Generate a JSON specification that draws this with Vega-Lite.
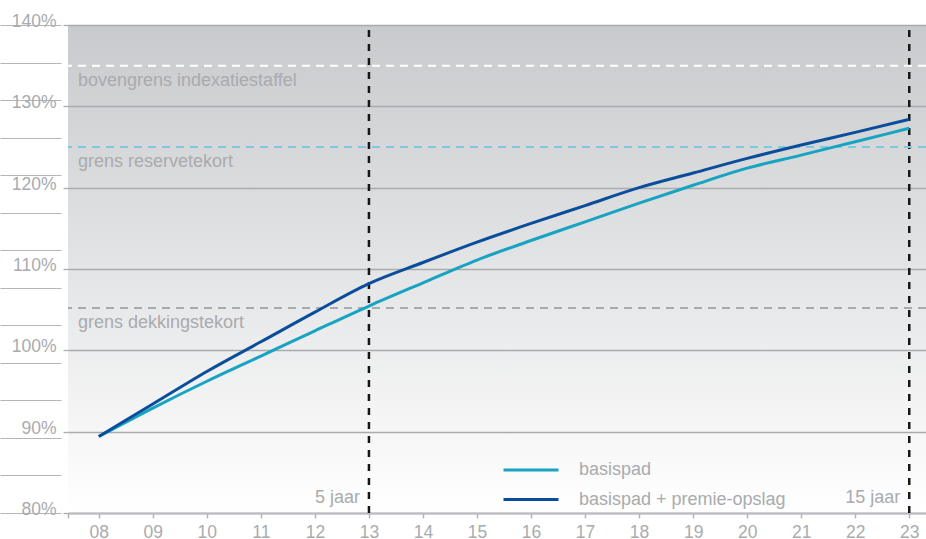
{
  "$schema": "https://vega.github.io/schema/vega-lite/v6.json",
  "width": 858,
  "height": 488,
  "autosize": "none",
  "padding": {"left": 68, "top": 25, "right": 0, "bottom": 26},
  "background": "#ffffff",
  "config": {
    "view": {
      "stroke": null,
      "fill": {
        "gradient": "linear",
        "x1": 0, "y1": 0, "x2": 0, "y2": 1,
        "stops": [
          {"offset": 0, "color": "#c8cacd"},
          {"offset": 1, "color": "#ffffff"}
        ]
      }
    },
    "font": "Liberation Sans",
    "axis": {
      "labelFont": "Liberation Sans",
      "labelFontSize": 17.5,
      "labelColor": "#a9abae",
      "title": null
    },
    "legend": {
      "orient": "none",
      "legendX": 454,
      "legendY": 436,
      "padding": 0,
      "symbolType": "M-5,0H5",
      "symbolSize": 121,
      "symbolStrokeWidth": 3,
      "labelFont": "Liberation Sans",
      "labelFontSize": 18,
      "labelColor": "#a9abae",
      "labelOffset": 39,
      "labelLimit": 0,
      "rowPadding": 11.5
    }
  },
  "datasets": {
    "paden": [
      {"jaar": 8, "pad": "basispad", "waarde": 89.4},
      {"jaar": 9, "pad": "basispad", "waarde": 92.9},
      {"jaar": 10, "pad": "basispad", "waarde": 96.2},
      {"jaar": 11, "pad": "basispad", "waarde": 99.3},
      {"jaar": 12, "pad": "basispad", "waarde": 102.4},
      {"jaar": 13, "pad": "basispad", "waarde": 105.45},
      {"jaar": 14, "pad": "basispad", "waarde": 108.3},
      {"jaar": 15, "pad": "basispad", "waarde": 111.1},
      {"jaar": 16, "pad": "basispad", "waarde": 113.5},
      {"jaar": 17, "pad": "basispad", "waarde": 115.8},
      {"jaar": 18, "pad": "basispad", "waarde": 118.1},
      {"jaar": 19, "pad": "basispad", "waarde": 120.3},
      {"jaar": 20, "pad": "basispad", "waarde": 122.4},
      {"jaar": 21, "pad": "basispad", "waarde": 124.0},
      {"jaar": 22, "pad": "basispad", "waarde": 125.65},
      {"jaar": 23, "pad": "basispad", "waarde": 127.3},
      {"jaar": 8, "pad": "basispad + premie-opslag", "waarde": 89.4},
      {"jaar": 9, "pad": "basispad + premie-opslag", "waarde": 93.4},
      {"jaar": 10, "pad": "basispad + premie-opslag", "waarde": 97.4},
      {"jaar": 11, "pad": "basispad + premie-opslag", "waarde": 101.05},
      {"jaar": 12, "pad": "basispad + premie-opslag", "waarde": 104.7},
      {"jaar": 13, "pad": "basispad + premie-opslag", "waarde": 108.2},
      {"jaar": 14, "pad": "basispad + premie-opslag", "waarde": 110.8},
      {"jaar": 15, "pad": "basispad + premie-opslag", "waarde": 113.3},
      {"jaar": 16, "pad": "basispad + premie-opslag", "waarde": 115.6},
      {"jaar": 17, "pad": "basispad + premie-opslag", "waarde": 117.8},
      {"jaar": 18, "pad": "basispad + premie-opslag", "waarde": 120.0},
      {"jaar": 19, "pad": "basispad + premie-opslag", "waarde": 121.8},
      {"jaar": 20, "pad": "basispad + premie-opslag", "waarde": 123.6},
      {"jaar": 21, "pad": "basispad + premie-opslag", "waarde": 125.25},
      {"jaar": 22, "pad": "basispad + premie-opslag", "waarde": 126.8},
      {"jaar": 23, "pad": "basispad + premie-opslag", "waarde": 128.4}
    ],
    "grenzen": [
      {"grens": "bovengrens indexatiestaffel", "waarde": 135},
      {"grens": "grens reservetekort", "waarde": 125},
      {"grens": "grens dekkingstekort", "waarde": 105.2}
    ],
    "horizon": [
      {"jaar": 13, "label": "5 jaar"},
      {"jaar": 23, "label": "15 jaar"}
    ]
  },
  "layer": [
    {
      "data": {"name": "horizon"},
      "mark": {"type": "rule", "color": "#161616", "strokeWidth": 2.5, "strokeDash": [7, 7]},
      "encoding": {
        "x": {
          "field": "jaar",
          "type": "quantitative",
          "scale": {"domain": [7.43, 23.31], "nice": false, "zero": false},
          "axis": {
            "values": [7.43, 8, 9, 10, 11, 12, 13, 14, 15, 16, 17, 18, 19, 20, 21, 22, 23],
            "labelExpr": "datum.value < 7.9 ? '' : (datum.value < 10 ? '0' + datum.value : '' + datum.value)",
            "grid": false,
            "tickSize": 5,
            "tickColor": "#b2b4b7",
            "tickWidth": 1.5,
            "domainColor": "#b8babd",
            "domainWidth": 2,
            "labelPadding": 5,
            "labelFlush": false,
            "labelOverlap": false,
            "title": null
          }
        },
        "y": {
          "datum": 0,
          "type": "quantitative",
          "scale": {"domain": [0, 13], "nice": false, "zero": false},
          "axis": {
            "orient": "left",
            "offset": 7,
            "values": [0, 1, 2, 3, 4, 5, 6, 7, 8, 9, 10, 11, 12, 13],
            "tickSize": 61,
            "tickColor": "#b4b6b9",
            "tickWidth": 1.2,
            "labels": false,
            "domain": false,
            "grid": false,
            "title": null
          }
        },
        "y2": {"datum": 13}
      }
    },
    {
      "layer": [
        {
          "data": {"name": "grenzen"},
          "mark": {"type": "rule", "strokeWidth": 2, "strokeDash": [8, 6]},
          "encoding": {
            "y": {"field": "waarde", "type": "quantitative"},
            "stroke": {
              "field": "grens",
              "type": "nominal",
              "scale": {
                "domain": ["bovengrens indexatiestaffel", "grens reservetekort", "grens dekkingstekort"],
                "range": ["#ffffff", "#7ccae0", "#a8aaad"]
              },
              "legend": null
            }
          }
        },
        {
          "data": {"name": "grenzen"},
          "mark": {"type": "text", "align": "left", "baseline": "alphabetic", "dx": 10, "dy": 20, "fontSize": 18, "color": "#a9abae"},
          "encoding": {
            "x": {"datum": 7.43, "type": "quantitative"},
            "y": {"field": "waarde", "type": "quantitative"},
            "text": {"field": "grens"}
          }
        },
        {
          "data": {"name": "paden"},
          "mark": {"type": "line", "strokeWidth": 3, "interpolate": "monotone"},
          "encoding": {
            "x": {"field": "jaar", "type": "quantitative"},
            "y": {
              "field": "waarde",
              "type": "quantitative",
              "scale": {"domain": [80, 140], "nice": false, "zero": false},
              "axis": {
                "orient": "left",
                "values": [80, 90, 100, 110, 120, 130, 140],
                "labelExpr": "datum.value + '%'",
                "grid": true,
                "gridColor": "#a9abae",
                "gridWidth": 1.3,
                "tickSize": 5,
                "tickColor": "#a9abae",
                "tickWidth": 1.3,
                "domain": false,
                "labelPadding": 7,
                "labelBaseline": "alphabetic",
                "labelOffset": 1.5,
                "title": null
              }
            },
            "color": {
              "field": "pad",
              "type": "nominal",
              "scale": {
                "domain": ["basispad", "basispad + premie-opslag"],
                "range": ["#17a3c2", "#0a4e9b"]
              },
              "legend": {"title": null}
            }
          }
        },
        {
          "data": {"name": "horizon"},
          "mark": {"type": "text", "align": "right", "baseline": "alphabetic", "dx": -9, "dy": -10, "fontSize": 18, "color": "#a9abae"},
          "encoding": {
            "x": {"field": "jaar", "type": "quantitative"},
            "y": {"datum": 80, "type": "quantitative"},
            "text": {"field": "label"}
          }
        }
      ]
    }
  ],
  "resolve": {"scale": {"y": "independent"}}
}
